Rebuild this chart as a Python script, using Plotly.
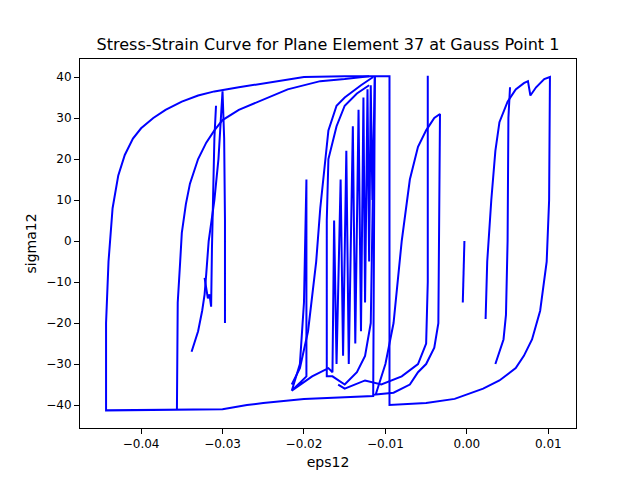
import plotly.graph_objects as go

# branches of the hysteresis path (eps12, sigma12); None separates branches
eps12 = [
    -0.0005, -0.0004, -0.0003, None,
    0.0023, 0.0025, 0.003, 0.0035, 0.004, 0.005, 0.006, 0.007, 0.0075, 0.0078, 0.0085, 0.0095, 0.0102,
    0.0101, 0.0098, 0.009, 0.008, 0.007, 0.006, 0.004, 0.002, 0.0, -0.0015, -0.005, -0.0095,
    -0.0095, -0.015, -0.02, -0.025, -0.028, -0.031, -0.033, -0.035, -0.037, -0.0385, -0.04, -0.041,
    -0.042, -0.0428, -0.0435, -0.044, -0.0443, -0.0443,
    -0.0356, -0.03, -0.027, -0.025, -0.02, -0.015, -0.0115, -0.0113, None,
    0.0035, 0.0045, 0.0048, 0.005, 0.0051, 0.0053, None,
    -0.0356, -0.0355, -0.0352, -0.035, -0.0345, -0.034, -0.033, -0.032, -0.031, -0.03, -0.028,
    -0.025, -0.022, -0.018, -0.015, -0.012, None,
    -0.0338, -0.033, -0.0325, -0.0322, -0.032, -0.0317, -0.031, -0.0305, -0.0302, -0.030, -0.0298, -0.0297, -0.0297, None,
    -0.0322, -0.0318, -0.0316, -0.0314, -0.0313, -0.0312, -0.031, -0.0308, None,
    -0.0215, -0.0205, -0.020, -0.0197, -0.0197, -0.0215, -0.019, -0.017, -0.0165, -0.0163,
    -0.016, -0.0155, -0.0152, -0.0148, -0.0145, -0.014, -0.0137, -0.0133, -0.013, -0.0127,
    -0.0125, -0.0122, -0.012, -0.0118, -0.0116, -0.0113, -0.0118, -0.0125, -0.0135, -0.015,
    -0.0165, -0.0172, -0.0172, -0.017, -0.016, -0.015, -0.0135, -0.012, None,
    -0.0215, -0.0205, -0.0195, -0.0185, -0.018, -0.0175, -0.017, -0.016, -0.015, -0.013, -0.0115, None,
    -0.0112, -0.01, -0.009, -0.008, -0.007, -0.006, -0.005, -0.004, -0.0033, -0.0035, -0.004, -0.005,
    -0.006, -0.007, -0.009, -0.0115, None,
    -0.0048, -0.0048, -0.005, -0.006, -0.008, -0.0105, -0.0125, -0.015, -0.0158,
]
sigma12 = [
    -15, -5, 0, None,
    -19, -5, 10, 22, 29, 34, 37, 38.5, 39, 35.5, 37.5, 39.5, 40,
    10, -5, -17, -24, -28, -31, -34, -36, -37.5, -38.5, -39.5, -40,
    40.2, 40.2, 40, 38.5, 37.5, 36.5, 35.5, 34, 32, 30, 27.5, 25,
    21, 16, 8, -5, -20, -41.3,
    -41.2, -41, -40, -39.5, -38.5, -38, -37.8, 40.2, None,
    -30, -24, -18, 0, 30, 37.5, None,
    -41.2, -15, -5, 2, 9, 14, 20, 24, 27, 29.5, 32,
    34.5, 37, 39, 39.5, 40.2, None,
    -27, -22, -17, -13, -8, 0, 10, 20, 30, 36.5, 25, 5, -20, None,
    -9, -14, -13, -16, -2, 8, 25, 33, None,
    -36.5, -30, -15, 15, -33, -36.5, -33, -31, -32, 5,
    -30, 15, -28, 22, -30, 28, -25, 32, -22, 35,
    -15, 37, -5, 38, 10, 40, -20, -28, -32, -35,
    -33, -33, 5, 20, 28, 33, 36, 38, None,
    -35, -31, -22, -5, 8, 18, 27, 33, 35, 38, 40, None,
    -37.5, -30, -20, 0, 15, 23, 27, 30, 31, -20, -26, -30,
    -32, -35, -37, -37.5, None,
    40.3, -10, -25, -30, -33, -35, -34, -36, -35,
]

fig = go.Figure()
fig.add_scatter(x=eps12, y=sigma12, mode="lines", line=dict(color="blue", width=2))

fig.update_layout(
    width=640, height=480,
    paper_bgcolor="white", plot_bgcolor="white",
    margin=dict(l=72, r=72, t=51, b=60, autoexpand=False),
    showlegend=False,
    font=dict(family="DejaVu Sans", size=12, color="black"),
    title=dict(text="Stress-Strain Curve for Plane Element 37 at Gauss Point 1",
               x=0.5, xanchor="center", y=0.925, yanchor="middle", font=dict(size=16)),
)
axis = dict(showline=True, mirror=True, linecolor="black", ticks="outside",
            showgrid=False, zeroline=False, tickcolor="black", automargin=False)
fig.update_xaxes(range=[-0.0475, 0.0134], tickvals=[-0.04, -0.03, -0.02, -0.01, 0.0, 0.01],
                 ticktext=["\u22120.04", "\u22120.03", "\u22120.02", "\u22120.01", "0.00", "0.01"],
                 title_text="eps12", title_standoff=6, **axis)
fig.update_yaxes(range=[-45.6, 44.4], tickvals=[-40, -30, -20, -10, 0, 10, 20, 30, 40],
                 ticktext=["\u221240", "\u221230", "\u221220", "\u221210", "0", "10", "20", "30", "40"],
                 title_text="sigma12", title_standoff=6, **axis)

fig.write_html("out.html")
